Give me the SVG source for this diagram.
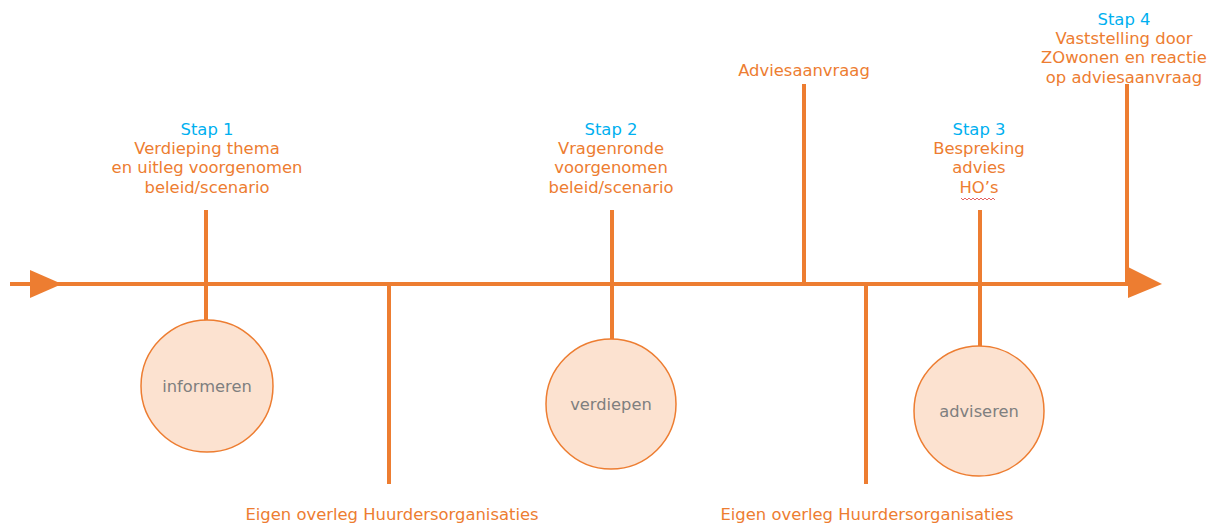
<svg xmlns="http://www.w3.org/2000/svg" width="1213" height="525" viewBox="0 0 1213 525">
<defs>
<style>
.ln{stroke:#ED7D31;stroke-width:4;fill:none}
.t{font-family:"DejaVu Sans",Verdana,sans-serif;font-size:16.4px;fill:#ED7D31;text-anchor:middle}
.s{fill:#00B0F0}
.c{fill:#FCE2D0;stroke:#ED7D31;stroke-width:1.5}
.ct{font-family:"DejaVu Sans",Verdana,sans-serif;font-size:16.3px;fill:#7F7F7F;text-anchor:middle}
.ar{fill:#ED7D31}
</style>
</defs>
<rect width="1213" height="525" fill="#fff"/>
<g id="connectors">
<line class="ln" x1="10" y1="284" x2="1130" y2="284"/>
<polygon class="ar" points="30,270 62,284 30,298"/>
<polygon class="ar" points="1128,267 1162,284 1128,298"/>
<line class="ln" x1="206" y1="210" x2="206" y2="321"/>
<line class="ln" x1="389" y1="284" x2="389" y2="484"/>
<line class="ln" x1="612" y1="210" x2="612" y2="339"/>
<line class="ln" x1="804" y1="84" x2="804" y2="284"/>
<line class="ln" x1="866" y1="284" x2="866" y2="484"/>
<line class="ln" x1="980" y1="210" x2="980" y2="346"/>
<line class="ln" x1="1127" y1="84" x2="1127" y2="284"/>
</g>
<g id="stap1">
<text class="t" x="207"><tspan class="s" x="207" y="135">Stap 1</tspan><tspan x="207" y="154">Verdieping thema</tspan><tspan x="207" y="173">en uitleg voorgenomen</tspan><tspan x="207" y="193">beleid/scenario</tspan></text>
</g>
<g id="informeren">
<circle class="c" cx="207" cy="386" r="66"/>
<text class="ct" x="207" y="392">informeren</text>
</g>
<g id="overleg1">
<text class="t" x="392" y="520">Eigen overleg Huurdersorganisaties</text>
</g>
<g id="stap2">
<text class="t"><tspan class="s" x="611" y="135">Stap 2</tspan><tspan x="611" y="154">Vragenronde</tspan><tspan x="611" y="173">voorgenomen</tspan><tspan x="611" y="193">beleid/scenario</tspan></text>
</g>
<g id="verdiepen">
<circle class="c" cx="611" cy="404" r="65"/>
<text class="ct" x="611" y="410">verdiepen</text>
</g>
<g id="adviesaanvraag">
<text class="t" x="804" y="76">Adviesaanvraag</text>
</g>
<g id="overleg2">
<text class="t" x="867" y="520">Eigen overleg Huurdersorganisaties</text>
</g>
<g id="stap3">
<text class="t"><tspan class="s" x="979" y="135">Stap 3</tspan><tspan x="979" y="154">Bespreking</tspan><tspan x="979" y="173">advies</tspan><tspan x="979" y="193">HO’s</tspan></text>
<path d="M961,198 l2,2 l2,-2 l2,2 l2,-2 l2,2 l2,-2 l2,2 l2,-2 l2,2 l2,-2 l2,2 l2,-2 l2,2 l2,-2 l2,2 l2,-2 l2,2" fill="none" stroke="#E03C3C" stroke-width="0.8"/>
</g>
<g id="adviseren">
<circle class="c" cx="979" cy="411" r="65"/>
<text class="ct" x="979" y="417">adviseren</text>
</g>
<g id="stap4">
<text class="t"><tspan class="s" x="1124" y="25">Stap 4</tspan><tspan x="1124" y="44">Vaststelling door</tspan><tspan x="1124" y="63">ZOwonen en reactie</tspan><tspan x="1124" y="83">op adviesaanvraag</tspan></text>
</g>
</svg>
